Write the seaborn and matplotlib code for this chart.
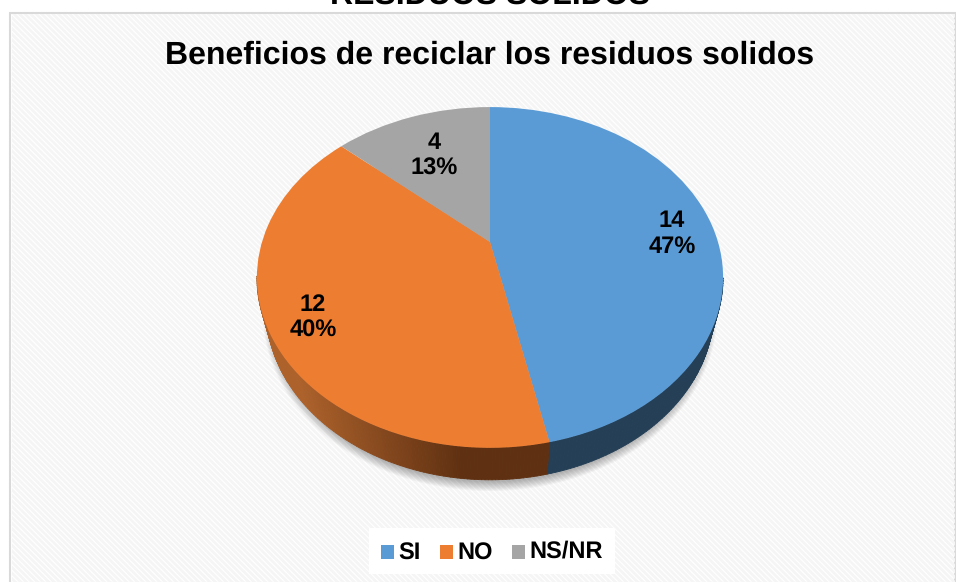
import numpy as np
import matplotlib
matplotlib.use("Agg")
import matplotlib.pyplot as plt
from matplotlib.collections import PolyCollection
from matplotlib.colors import LinearSegmentedColormap
from matplotlib.patches import Ellipse, Rectangle
from matplotlib.transforms import Transform
import seaborn as sns

categories = ["SI", "NO", "NS/NR"]
counts = [14, 12, 4]
chart_title = "Beneficios de reciclar los residuos solidos"
page_heading = "RESIDUOS SOLIDOS"

top_colors = sns.color_palette(["#5b9bd5", "#ed7d31", "#a5a5a5"])
side_colors = [("#243f56", "#243f56"), ("#5f3011", "#ad622b"), ("#63635f", "#63635f")]

sns.set_theme(style="white")
plt.rcParams["font.family"] = ["Liberation Sans", "DejaVu Sans"]
plt.rcParams["hatch.linewidth"] = 2.0
plt.rcParams["hatch.color"] = "#f5f5f5"
plt.rcParams["text.hinting"] = "none"

# tilted disc: apex sits above the ellipse centre, like the office 3d pie
cx, cy = 490, 242
a, b, k = 228, 163, 0.208
depth = 32


def project(x, y):
    d = 1 + k * np.asarray(y)
    return cx + a * np.asarray(x) / d, cy - b * np.asarray(y) / d


class Tilt(Transform):
    input_dims = output_dims = 2

    def transform_non_affine(self, values):
        return np.column_stack(project(values[:, 0], values[:, 1]))


fig = plt.figure(figsize=(9.56, 5.82), dpi=100)
ax = fig.add_axes([0, 0, 1, 1])

wedges, _ = ax.pie(counts, colors=top_colors, startangle=90, counterclock=False,
                   wedgeprops={"linewidth": 0})
ax.set_aspect("auto")
ax.set_xlim(0, 956)
ax.set_ylim(582, 0)

ax.text(490, 4, page_heading, ha="center", va="baseline", fontsize=23, fontweight="bold",
        color="black", zorder=0)
ax.add_patch(Rectangle((10.5, 13), 945, 570, facecolor="white", edgecolor="#d9d9d9", linewidth=1.5,
                       zorder=0.5))
ax.add_patch(Rectangle((12, 14), 943, 568, facecolor="none", edgecolor="#f5f5f5", hatch="\\\\\\\\\\\\",
                       linewidth=0, zorder=0.6))

# soft shadow under the disc
for grow in np.linspace(9, 0, 10):
    ax.add_patch(Ellipse((cx, 277 + depth + 5), 2 * (218 + grow), 2 * (168 + grow), facecolor="black",
                         edgecolor="none", alpha=0.03, zorder=0.8))

tilt = Tilt()
for wedge, sides in zip(wedges, side_colors):
    t = np.radians(np.linspace(wedge.theta1, wedge.theta2, 200))
    t = t[np.sin(t) < -0.2]
    if len(t) > 1:
        X, Y = project(np.cos(t), np.sin(t))
        X2, Y2 = cx + (X - cx) * 0.96, Y + depth
        quads = [[(X[i], Y[i]), (X[i + 1], Y[i + 1]), (X2[i + 1], Y2[i + 1]), (X2[i], Y2[i])]
                 for i in range(len(t) - 1)]
        cmap = LinearSegmentedColormap.from_list("side", [(0, sides[0]), (0.3, sides[0]), (1, sides[1])])
        shade = np.clip((cx + 40 - X[:-1]) / 233, 0, 1)
        ax.add_collection(PolyCollection(quads, facecolors=cmap(shade), edgecolors=cmap(shade),
                                         linewidths=0.6, zorder=1))
    wedge.set_transform(tilt + ax.transData)
    wedge.set_zorder(2)

total = sum(counts)
label_pos = [(672, 234), (313, 318), (434, 156)]
for n, (lx, ly) in zip(counts, label_pos):
    ax.text(lx, ly, f"{n}\n{round(100 * n / total)}%", ha="center", va="center", fontsize=17,
            fontweight="bold", color="black", linespacing=1.2, zorder=3)

ax.text(490, 55, chart_title, ha="center", va="center", fontsize=23, fontweight="bold",
        color="black", zorder=3)

leg = ax.legend(wedges, categories, loc="center", bbox_to_anchor=(492 / 956, 1 - 551 / 582), ncols=3,
                frameon=True, framealpha=1, facecolor="white", edgecolor="none",
                prop={"weight": "bold", "size": 17}, labelcolor="black", handlelength=0.55,
                handleheight=0.55, handletextpad=0.2, columnspacing=0.8, borderpad=0.5, fancybox=False)
leg.set_zorder(3)
# the slash in NS/NR pushes its baseline down, line everything up at the same height
leg.get_texts()[0].set_position((0, -2.1))
leg.get_texts()[1].set_position((0, -2.1))
for h in leg.legend_handles:
    h.set_y(h.get_y() - 2.1)

fig.savefig("out.png", dpi=100)
